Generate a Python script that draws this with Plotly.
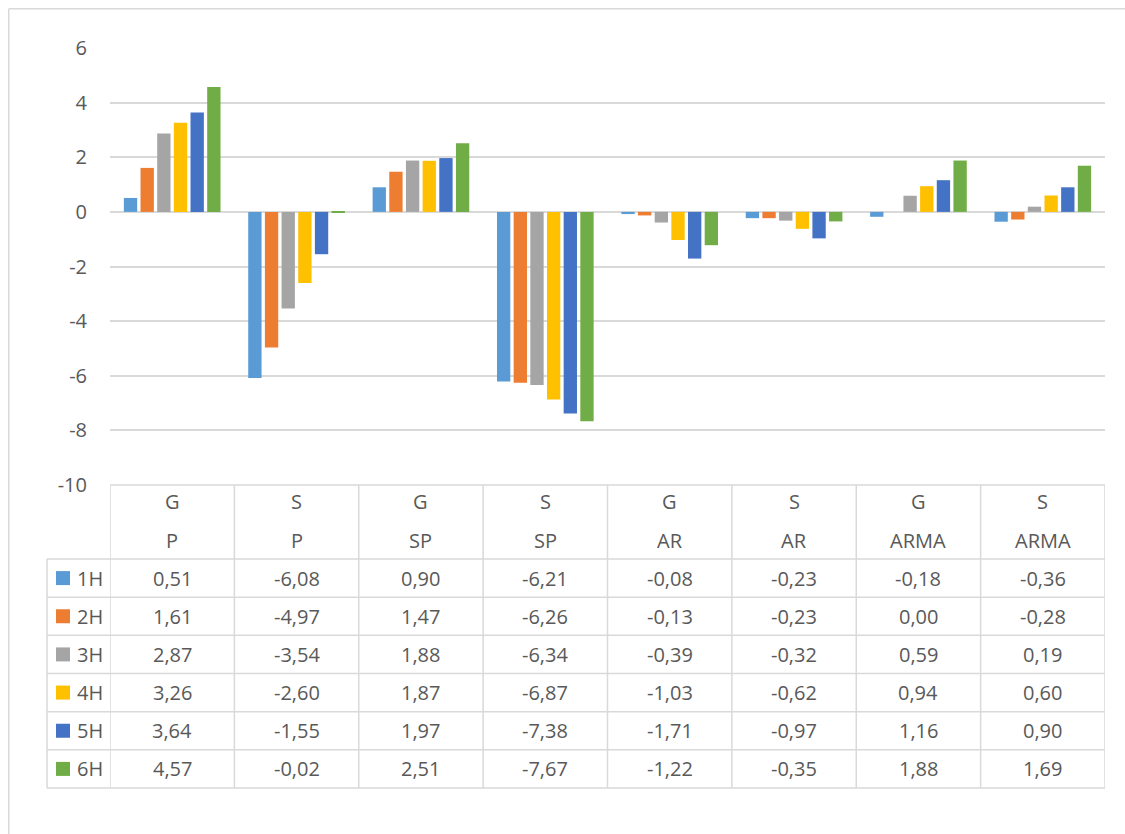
import plotly.graph_objects as go

cat_top = ["G", "S", "G", "S", "G", "S", "G", "S"]
cat_bottom = ["P", "P", "SP", "SP", "AR", "AR", "ARMA", "ARMA"]
series_names = ["1H", "2H", "3H", "4H", "5H", "6H"]
colors = ["#5B9BD5", "#ED7D31", "#A5A5A5", "#FFC000", "#4472C4", "#70AD47"]
h1 = [0.51, -6.08, 0.90, -6.21, -0.08, -0.23, -0.18, -0.36]
h2 = [1.61, -4.97, 1.47, -6.26, -0.13, -0.23, 0.00, -0.28]
h3 = [2.87, -3.54, 1.88, -6.34, -0.39, -0.32, 0.59, 0.19]
h4 = [3.26, -2.60, 1.87, -6.87, -1.03, -0.62, 0.94, 0.60]
h5 = [3.64, -1.55, 1.97, -7.38, -1.71, -0.97, 1.16, 0.90]
h6 = [4.57, -0.02, 2.51, -7.67, -1.22, -0.35, 1.88, 1.69]
series = [h1, h2, h3, h4, h5, h6]
y_ticks = [6, 4, 2, 0, -2, -4, -6, -8, -10]

# page size; body margin is removed by the post script so figure == page
W, H = 1125, 834
# plot area in page pixels
PL, PR, PT, PB = 110, 1105, 48, 485
FONT = "Open Sans"
TXT = "#595959"
LINE = "#d9d9d9"

def px(x):
    return (x - PL) / (PR - PL)

def py(y):
    return (PB - y) / (PB - PT)

xs = list(range(len(cat_top)))
fig = go.Figure()
for name, vals, col in zip(series_names, series, colors):
    fig.add_trace(go.Bar(x=xs, y=vals, name=name, marker=dict(color=col, line=dict(width=0))))

shapes = []
annotations = []

# chart area border (top and left edges visible)
shapes.append(dict(type="line", xref="paper", yref="paper", x0=px(8.75), x1=px(1125),
                   y0=py(8.75), y1=py(8.75), line=dict(color=LINE, width=1.5), layer="below"))
shapes.append(dict(type="line", xref="paper", yref="paper", x0=px(8.75), x1=px(8.75),
                   y0=py(8.75), y1=py(834), line=dict(color=LINE, width=1.5), layer="below"))

# data table geometry
row_h = (788 - 559) / 6
row_tops = [559 + k * row_h for k in range(7)]
shapes.append(dict(type="line", xref="paper", yref="paper", x0=px(PL), x1=px(PR), y0=py(485), y1=py(485),
                   line=dict(color=LINE, width=1.5)))
for yt in row_tops:
    shapes.append(dict(type="line", xref="paper", yref="paper", x0=px(47), x1=px(PR), y0=py(yt), y1=py(yt),
                       line=dict(color=LINE, width=1.5)))
for i in range(len(cat_top) + 1):
    shapes.append(dict(type="line", xref="x", yref="paper", x0=i - 0.5, x1=i - 0.5, y0=py(485), y1=py(788),
                       line=dict(color=LINE, width=1.5)))
shapes.append(dict(type="line", xref="paper", yref="paper", x0=px(47), x1=px(47), y0=py(559), y1=py(788),
                   line=dict(color=LINE, width=1.5)))

# header text
for i in xs:
    annotations.append(dict(x=i, y=py(501), xref="x", yref="paper", text=cat_top[i], showarrow=False,
                            font=dict(family=FONT, size=20, color=TXT), xanchor="center", yanchor="middle"))
    annotations.append(dict(x=i, y=py(540), xref="x", yref="paper", text=cat_bottom[i], showarrow=False,
                            font=dict(family=FONT, size=20, color=TXT), xanchor="center", yanchor="middle"))

# rows
for r, (name, vals, col) in enumerate(zip(series_names, series, colors)):
    yc = row_tops[r] + row_h / 2
    shapes.append(dict(type="rect", xref="paper", yref="paper", x0=px(56), x1=px(70), y0=py(yc - 7), y1=py(yc + 7),
                       fillcolor=col, line=dict(width=0)))
    annotations.append(dict(x=px(75), y=py(yc), xref="paper", yref="paper", text=name, showarrow=False,
                            font=dict(family=FONT, size=20, color=TXT), xanchor="left", yanchor="middle"))
    for i, v in enumerate(vals):
        annotations.append(dict(x=i, y=py(yc), xref="x", yref="paper", text=f"{v:.2f}".replace(".", ","),
                                showarrow=False, font=dict(family=FONT, size=20, color=TXT),
                                xanchor="center", yanchor="middle"))

fig.update_layout(
    width=W, height=H,
    margin=dict(l=PL, r=W - PR, t=PT, b=H - PB, autoexpand=False),
    paper_bgcolor="white", plot_bgcolor="white",
    barmode="group", bargap=0.196, bargroupgap=0.2,
    showlegend=False,
    shapes=shapes, annotations=annotations,
    xaxis=dict(range=[-0.5, 7.5], showgrid=False, showticklabels=False, zeroline=False, showline=False, ticks=""),
    yaxis=dict(range=[-10, 6], tickvals=y_ticks, ticktext=[str(t) for t in y_ticks], showgrid=True,
               gridcolor=LINE, gridwidth=1.5, zeroline=True, zerolinecolor=LINE, zerolinewidth=1.5,
               showline=False, ticks="", ticklabelstandoff=22,
               tickfont=dict(family=FONT, size=20, color=TXT)),
)

fig.write_html(
    "out.html",
    config={"displayModeBar": False},
    post_script=("document.documentElement.style.margin='0';document.documentElement.style.overflow='hidden';"
                 "document.body.style.margin='0';document.body.style.overflow='hidden';"),
)
